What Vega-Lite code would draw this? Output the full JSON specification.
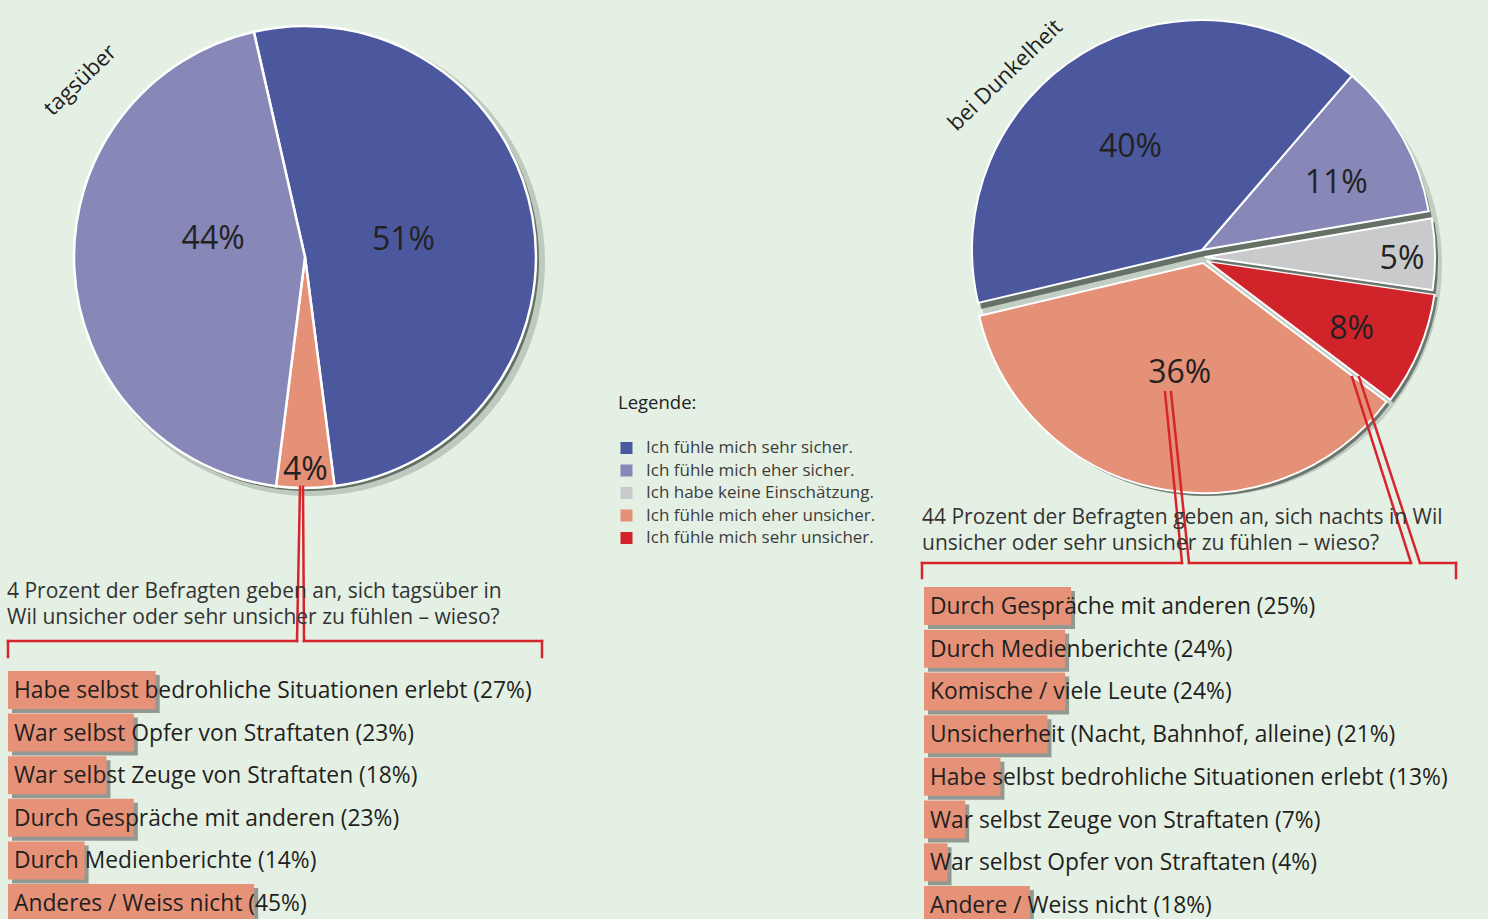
{
  "$schema": "https://vega.github.io/schema/vega-lite/v6.json",
  "background": "#e5f0e4",
  "padding": 0,
  "columns": 2,
  "spacing": {"row": 0, "column": 310},
  "bounds": "flush",
  "resolve": {"scale": {"theta": "independent", "x": "independent", "y": "independent", "color": "shared"}},
  "config": {
    "view": {"stroke": null},
    "font": "Open Sans",
    "legend": {"orient": "none", "legendX": 618, "legendY": 394, "symbolType": "square", "symbolSize": 144, "symbolStrokeWidth": 0, "labelFontSize": 17, "labelColor": "#3c3c3c", "labelOffset": 11, "labelLimit": 400, "titleFontSize": 18.5, "titleFontWeight": "normal", "titleColor": "#222222", "titlePadding": 27, "rowPadding": 4.5},
    "title": {"fontWeight": "normal"}
  },
  "concat": [
    {
      "width": 610,
      "height": 514,
      "data": {"values": [
        {"cat": "Ich fühle mich sehr sicher.", "share": 0.51, "o": 1},
        {"cat": "Ich fühle mich eher unsicher.", "share": 0.04, "o": 2},
        {"cat": "Ich fühle mich eher sicher.", "share": 0.44, "o": 3}
      ]},
      "layer": [
        {"mark": {"type": "arc", "outerRadius": 234, "color": "#27332a", "opacity": 0.2, "xOffset": 6, "yOffset": 5},
         "encoding": {"theta": {"field": "share", "type": "quantitative", "stack": true, "scale": {"domain": [0, 0.99], "range": [-0.2234, 6.0598]}}, "order": {"field": "o"}}},
        {"mark": {"type": "arc", "outerRadius": 231, "color": "#27332a", "opacity": 0.6, "xOffset": 3, "yOffset": 3},
         "encoding": {"theta": {"field": "share", "type": "quantitative", "stack": true, "scale": {"domain": [0, 0.99], "range": [-0.2234, 6.0598]}}, "order": {"field": "o"}}},
        {"mark": {"type": "arc", "outerRadius": 231, "stroke": "#ffffff", "strokeWidth": 2.5},
         "encoding": {
           "theta": {"field": "share", "type": "quantitative", "stack": true, "scale": {"domain": [0, 0.99], "range": [-0.2234, 6.0598]}},
           "order": {"field": "o"},
           "color": {"field": "cat", "type": "nominal", "title": "Legende:", "scale": {"domain": ["Ich fühle mich sehr sicher.", "Ich fühle mich eher sicher.", "Ich habe keine Einschätzung.", "Ich fühle mich eher unsicher.", "Ich fühle mich sehr unsicher."], "range": ["#4b589e", "#8787b8", "#c9cacc", "#e59178", "#d1232a"]}}
         }},
        {"mark": {"type": "text", "radius": 100, "fontSize": 32, "color": "#222222"},
         "encoding": {"theta": {"field": "share", "type": "quantitative", "stack": true, "scale": {"domain": [0, 0.99], "range": [-0.2234, 6.0598]}}, "order": {"field": "o"},
           "text": {"condition": {"test": "datum.o == 1", "field": "share", "type": "quantitative", "format": ".0%"}, "value": ""}}},
        {"mark": {"type": "text", "radius": 92, "dy": -22, "fontSize": 32, "color": "#222222"},
         "encoding": {"theta": {"field": "share", "type": "quantitative", "stack": true, "scale": {"domain": [0, 0.99], "range": [-0.2234, 6.0598]}}, "order": {"field": "o"},
           "text": {"condition": {"test": "datum.o == 3", "field": "share", "type": "quantitative", "format": ".0%"}, "value": ""}}},
        {"mark": {"type": "text", "radius": 211, "dy": 2, "fontSize": 32, "color": "#222222"},
         "encoding": {"theta": {"field": "share", "type": "quantitative", "stack": true, "scale": {"domain": [0, 0.99], "range": [-0.2234, 6.0598]}}, "order": {"field": "o"},
           "text": {"condition": {"test": "datum.o == 2", "field": "share", "type": "quantitative", "format": ".0%"}, "value": ""}}},
        {"data": {"values": [{"t": "tagsüber"}]},
         "mark": {"type": "text", "theta": -0.904, "radius": 286, "angle": 316, "fontSize": 22, "color": "#222222"},
         "encoding": {"text": {"field": "t"}}},
        {"data": {"values": [{}]}, "mark": {"type": "rule", "color": "#d6262c", "strokeWidth": 2.5, "strokeCap": "square"},
         "encoding": {"x": {"value": 300}, "y": {"value": 487}, "x2": {"value": 297}, "y2": {"value": 641}}},
        {"data": {"values": [{}]}, "mark": {"type": "rule", "color": "#d6262c", "strokeWidth": 2.5, "strokeCap": "square"},
         "encoding": {"x": {"value": 303}, "y": {"value": 487}, "x2": {"value": 304}, "y2": {"value": 641}}},
        {"data": {"values": [{}]}, "mark": {"type": "rule", "color": "#d6262c", "strokeWidth": 2.5, "strokeCap": "square"},
         "encoding": {"x": {"value": 8}, "x2": {"value": 297}, "y": {"value": 641}}},
        {"data": {"values": [{}]}, "mark": {"type": "rule", "color": "#d6262c", "strokeWidth": 2.5, "strokeCap": "square"},
         "encoding": {"x": {"value": 304}, "x2": {"value": 542}, "y": {"value": 641}}},
        {"data": {"values": [{}]}, "mark": {"type": "rule", "color": "#d6262c", "strokeWidth": 2.5, "strokeCap": "square"},
         "encoding": {"x": {"value": 8}, "y": {"value": 641}, "y2": {"value": 657}}},
        {"data": {"values": [{}]}, "mark": {"type": "rule", "color": "#d6262c", "strokeWidth": 2.5, "strokeCap": "square"},
         "encoding": {"x": {"value": 542}, "y": {"value": 641}, "y2": {"value": 657}}}
      ]
    },
    {
      "width": 568,
      "height": 516,
      "data": {"values": [
        {"cat": "Ich fühle mich eher sicher.", "share": 0.11, "o": 1},
        {"cat": "Ich habe keine Einschätzung.", "share": 0.05, "o": 2},
        {"cat": "Ich fühle mich sehr unsicher.", "share": 0.08, "o": 3},
        {"cat": "Ich fühle mich eher unsicher.", "share": 0.36, "o": 4},
        {"cat": "Ich fühle mich sehr sicher.", "share": 0.40, "o": 5}
      ]},
      "layer": [
        {"mark": {"type": "arc", "outerRadius": 232, "color": "#27332a", "opacity": 0.18, "xOffset": 6, "yOffset": 6},
         "encoding": {"theta": {"field": "share", "type": "quantitative", "stack": true, "scale": {"domain": [0, 1], "range": [0.7103, 6.9935]}}, "order": {"field": "o"}}},
        {"transform": [{"stack": "share", "groupby": [], "sort": [{"field": "o", "order": "ascending"}], "as": ["s0", "s1"]}, {"filter": "datum.o == 4"}],
         "mark": {"type": "arc", "outerRadius": 230, "color": "#27332a", "opacity": 0.55, "xOffset": 2, "yOffset": 8},
         "encoding": {"theta": {"field": "s0", "type": "quantitative", "scale": {"domain": [0, 1], "range": [0.7103, 6.9935]}}, "theta2": {"field": "s1"}}},
        {"transform": [{"stack": "share", "groupby": [], "sort": [{"field": "o", "order": "ascending"}], "as": ["s0", "s1"]}, {"filter": "datum.o == 4"}],
         "mark": {"type": "arc", "outerRadius": 230, "stroke": "#ffffff", "strokeWidth": 2, "xOffset": -1, "yOffset": 5},
         "encoding": {"theta": {"field": "s0", "type": "quantitative", "scale": {"domain": [0, 1], "range": [0.7103, 6.9935]}}, "theta2": {"field": "s1"},
           "color": {"field": "cat", "type": "nominal", "title": "Legende:", "scale": {"domain": ["Ich fühle mich sehr sicher.", "Ich fühle mich eher sicher.", "Ich habe keine Einschätzung.", "Ich fühle mich eher unsicher.", "Ich fühle mich sehr unsicher."], "range": ["#4b589e", "#8787b8", "#c9cacc", "#e59178", "#d1232a"]}}}},
        {"transform": [{"stack": "share", "groupby": [], "sort": [{"field": "o", "order": "ascending"}], "as": ["s0", "s1"]}, {"filter": "datum.o == 3"}],
         "mark": {"type": "arc", "outerRadius": 230, "color": "#27332a", "opacity": 0.55, "xOffset": 6, "yOffset": 6},
         "encoding": {"theta": {"field": "s0", "type": "quantitative", "scale": {"domain": [0, 1], "range": [0.7103, 6.9935]}}, "theta2": {"field": "s1"}}},
        {"transform": [{"stack": "share", "groupby": [], "sort": [{"field": "o", "order": "ascending"}], "as": ["s0", "s1"]}, {"filter": "datum.o == 3"}],
         "mark": {"type": "arc", "outerRadius": 230, "stroke": "#ffffff", "strokeWidth": 2, "xOffset": 3, "yOffset": 3},
         "encoding": {"theta": {"field": "s0", "type": "quantitative", "scale": {"domain": [0, 1], "range": [0.7103, 6.9935]}}, "theta2": {"field": "s1"},
           "color": {"field": "cat", "type": "nominal", "title": "Legende:", "scale": {"domain": ["Ich fühle mich sehr sicher.", "Ich fühle mich eher sicher.", "Ich habe keine Einschätzung.", "Ich fühle mich eher unsicher.", "Ich fühle mich sehr unsicher."], "range": ["#4b589e", "#8787b8", "#c9cacc", "#e59178", "#d1232a"]}}}},
        {"transform": [{"stack": "share", "groupby": [], "sort": [{"field": "o", "order": "ascending"}], "as": ["s0", "s1"]}, {"filter": "datum.o == 2"}],
         "mark": {"type": "arc", "outerRadius": 230, "color": "#27332a", "opacity": 0.6, "xOffset": 4, "yOffset": 3},
         "encoding": {"theta": {"field": "s0", "type": "quantitative", "scale": {"domain": [0, 1], "range": [0.7103, 6.9935]}}, "theta2": {"field": "s1"}}},
        {"transform": [{"stack": "share", "groupby": [], "sort": [{"field": "o", "order": "ascending"}], "as": ["s0", "s1"]}, {"filter": "datum.o == 2"}],
         "mark": {"type": "arc", "outerRadius": 230, "stroke": "#ffffff", "strokeWidth": 2, "xOffset": 1, "yOffset": -1},
         "encoding": {"theta": {"field": "s0", "type": "quantitative", "scale": {"domain": [0, 1], "range": [0.7103, 6.9935]}}, "theta2": {"field": "s1"},
           "color": {"field": "cat", "type": "nominal", "title": "Legende:", "scale": {"domain": ["Ich fühle mich sehr sicher.", "Ich fühle mich eher sicher.", "Ich habe keine Einschätzung.", "Ich fühle mich eher unsicher.", "Ich fühle mich sehr unsicher."], "range": ["#4b589e", "#8787b8", "#c9cacc", "#e59178", "#d1232a"]}}}},
        {"transform": [{"stack": "share", "groupby": [], "sort": [{"field": "o", "order": "ascending"}], "as": ["s0", "s1"]}, {"filter": "datum.o == 1 || datum.o == 5"}],
         "mark": {"type": "arc", "outerRadius": 230, "color": "#27332a", "opacity": 0.6, "xOffset": 1, "yOffset": -2},
         "encoding": {"theta": {"field": "s0", "type": "quantitative", "scale": {"domain": [0, 1], "range": [0.7103, 6.9935]}}, "theta2": {"field": "s1"}}},
        {"transform": [{"stack": "share", "groupby": [], "sort": [{"field": "o", "order": "ascending"}], "as": ["s0", "s1"]}, {"filter": "datum.o == 1 || datum.o == 5"}],
         "mark": {"type": "arc", "outerRadius": 230, "stroke": "#ffffff", "strokeWidth": 2, "xOffset": -2, "yOffset": -8},
         "encoding": {"theta": {"field": "s0", "type": "quantitative", "scale": {"domain": [0, 1], "range": [0.7103, 6.9935]}}, "theta2": {"field": "s1"},
           "color": {"field": "cat", "type": "nominal", "title": "Legende:", "scale": {"domain": ["Ich fühle mich sehr sicher.", "Ich fühle mich eher sicher.", "Ich habe keine Einschätzung.", "Ich fühle mich eher unsicher.", "Ich fühle mich sehr unsicher."], "range": ["#4b589e", "#8787b8", "#c9cacc", "#e59178", "#d1232a"]}}}},
        {"mark": {"type": "text", "radius": 132, "dx": -5, "dy": 2, "fontSize": 32, "color": "#222222"},
         "encoding": {"theta": {"field": "share", "type": "quantitative", "stack": true, "scale": {"domain": [0, 1], "range": [0.7103, 6.9935]}}, "order": {"field": "o"},
           "text": {"condition": {"test": "datum.o == 5", "field": "share", "type": "quantitative", "format": ".0%"}, "value": ""}}},
        {"mark": {"type": "text", "radius": 152, "fontSize": 32, "color": "#222222"},
         "encoding": {"theta": {"field": "share", "type": "quantitative", "stack": true, "scale": {"domain": [0, 1], "range": [0.7103, 6.9935]}}, "order": {"field": "o"},
           "text": {"condition": {"test": "datum.o == 1", "field": "share", "type": "quantitative", "format": ".0%"}, "value": ""}}},
        {"mark": {"type": "text", "radius": 198, "dy": 3, "fontSize": 32, "color": "#222222"},
         "encoding": {"theta": {"field": "share", "type": "quantitative", "stack": true, "scale": {"domain": [0, 1], "range": [0.7103, 6.9935]}}, "order": {"field": "o"},
           "text": {"condition": {"test": "datum.o == 2", "field": "share", "type": "quantitative", "format": ".0%"}, "value": ""}}},
        {"mark": {"type": "text", "radius": 160, "dy": 9, "fontSize": 32, "color": "#222222"},
         "encoding": {"theta": {"field": "share", "type": "quantitative", "stack": true, "scale": {"domain": [0, 1], "range": [0.7103, 6.9935]}}, "order": {"field": "o"},
           "text": {"condition": {"test": "datum.o == 3", "field": "share", "type": "quantitative", "format": ".0%"}, "value": ""}}},
        {"mark": {"type": "text", "radius": 118, "fontSize": 32, "color": "#222222"},
         "encoding": {"theta": {"field": "share", "type": "quantitative", "stack": true, "scale": {"domain": [0, 1], "range": [0.7103, 6.9935]}}, "order": {"field": "o"},
           "text": {"condition": {"test": "datum.o == 4", "field": "share", "type": "quantitative", "format": ".0%"}, "value": ""}}},
        {"data": {"values": [{"t": "bei Dunkelheit"}]},
         "mark": {"type": "text", "theta": -0.827, "radius": 270, "angle": 316, "fontSize": 22, "color": "#222222"},
         "encoding": {"text": {"field": "t"}}},
        {"data": {"values": [{}]}, "mark": {"type": "rule", "color": "#d6262c", "strokeWidth": 2.5, "strokeCap": "square"},
         "encoding": {"x": {"value": 245}, "y": {"value": 392}, "x2": {"value": 262}, "y2": {"value": 563}}},
        {"data": {"values": [{}]}, "mark": {"type": "rule", "color": "#d6262c", "strokeWidth": 2.5, "strokeCap": "square"},
         "encoding": {"x": {"value": 251}, "y": {"value": 392}, "x2": {"value": 269}, "y2": {"value": 563}}},
        {"data": {"values": [{}]}, "mark": {"type": "rule", "color": "#d6262c", "strokeWidth": 2.5, "strokeCap": "square"},
         "encoding": {"x": {"value": 432}, "y": {"value": 377}, "x2": {"value": 491}, "y2": {"value": 563}}},
        {"data": {"values": [{}]}, "mark": {"type": "rule", "color": "#d6262c", "strokeWidth": 2.5, "strokeCap": "square"},
         "encoding": {"x": {"value": 439}, "y": {"value": 377}, "x2": {"value": 500}, "y2": {"value": 563}}},
        {"data": {"values": [{}]}, "mark": {"type": "rule", "color": "#d6262c", "strokeWidth": 2.5, "strokeCap": "square"},
         "encoding": {"x": {"value": 2}, "x2": {"value": 262}, "y": {"value": 563}}},
        {"data": {"values": [{}]}, "mark": {"type": "rule", "color": "#d6262c", "strokeWidth": 2.5, "strokeCap": "square"},
         "encoding": {"x": {"value": 269}, "x2": {"value": 491}, "y": {"value": 563}}},
        {"data": {"values": [{}]}, "mark": {"type": "rule", "color": "#d6262c", "strokeWidth": 2.5, "strokeCap": "square"},
         "encoding": {"x": {"value": 500}, "x2": {"value": 536}, "y": {"value": 563}}},
        {"data": {"values": [{}]}, "mark": {"type": "rule", "color": "#d6262c", "strokeWidth": 2.5, "strokeCap": "square"},
         "encoding": {"x": {"value": 2}, "y": {"value": 563}, "y2": {"value": 578}}},
        {"data": {"values": [{}]}, "mark": {"type": "rule", "color": "#d6262c", "strokeWidth": 2.5, "strokeCap": "square"},
         "encoding": {"x": {"value": 536}, "y": {"value": 563}, "y2": {"value": 578}}}
      ]
    },
    {
      "width": 610,
      "height": 403,
      "title": {"text": ["4 Prozent der Befragten geben an, sich tagsüber in", "Wil unsicher oder sehr unsicher zu fühlen – wieso?"], "anchor": "start", "frame": "group", "dx": 7, "dy": 112, "offset": 0, "fontSize": 21, "fontWeight": "normal", "color": "#333333", "lineHeight": 26},
      "data": {"values": [
        {"reason": "Habe selbst bedrohliche Situationen erlebt (27%)", "pct": 27},
        {"reason": "War selbst Opfer von Straftaten (23%)", "pct": 23},
        {"reason": "War selbst Zeuge von Straftaten (18%)", "pct": 18},
        {"reason": "Durch Gespräche mit anderen (23%)", "pct": 23},
        {"reason": "Durch Medienberichte (14%)", "pct": 14},
        {"reason": "Anderes / Weiss nicht (45%)", "pct": 45}
      ]},
      "encoding": {"y": {"field": "reason", "type": "nominal", "sort": null, "axis": null, "scale": {"range": [155, 406], "paddingInner": 0.108, "paddingOuter": 0}}},
      "layer": [
        {"mark": {"type": "bar", "color": "#2f2f2f", "opacity": 0.45, "xOffset": 4, "x2Offset": 4, "yOffset": 4, "y2Offset": 4},
         "encoding": {"x": {"field": "pct", "type": "quantitative", "axis": null, "scale": {"domain": [0, 100], "range": [8, 555]}}}},
        {"mark": {"type": "bar", "color": "#e69278"},
         "encoding": {"x": {"field": "pct", "type": "quantitative", "axis": null, "scale": {"domain": [0, 100], "range": [8, 555]}}}},
        {"mark": {"type": "text", "align": "left", "baseline": "middle", "dx": 6, "dy": 1, "fontSize": 22.8, "color": "#231f20"},
         "encoding": {"x": {"datum": 0, "type": "quantitative"}, "text": {"field": "reason"}}}
      ]
    },
    {
      "width": 560,
      "height": 403,
      "title": {"text": ["44 Prozent der Befragten geben an, sich nachts in Wil", "unsicher oder sehr unsicher zu fühlen – wieso?"], "anchor": "start", "frame": "group", "dx": 2, "dy": 38, "offset": 0, "fontSize": 21, "fontWeight": "normal", "color": "#333333", "lineHeight": 26},
      "data": {"values": [
        {"reason": "Durch Gespräche mit anderen (25%)", "pct": 25},
        {"reason": "Durch Medienberichte (24%)", "pct": 24},
        {"reason": "Komische / viele Leute (24%)", "pct": 24},
        {"reason": "Unsicherheit (Nacht, Bahnhof, alleine) (21%)", "pct": 21},
        {"reason": "Habe selbst bedrohliche Situationen erlebt (13%)", "pct": 13},
        {"reason": "War selbst Zeuge von Straftaten (7%)", "pct": 7},
        {"reason": "War selbst Opfer von Straftaten (4%)", "pct": 4},
        {"reason": "Andere / Weiss nicht (18%)", "pct": 18}
      ]},
      "encoding": {"y": {"field": "reason", "type": "nominal", "sort": null, "axis": null, "scale": {"range": [71, 408], "paddingInner": 0.11, "paddingOuter": 0}}},
      "layer": [
        {"mark": {"type": "bar", "color": "#2f2f2f", "opacity": 0.45, "xOffset": 4, "x2Offset": 4, "yOffset": 4, "y2Offset": 4},
         "encoding": {"x": {"field": "pct", "type": "quantitative", "axis": null, "scale": {"domain": [0, 100], "range": [4, 592]}}}},
        {"mark": {"type": "bar", "color": "#e69278"},
         "encoding": {"x": {"field": "pct", "type": "quantitative", "axis": null, "scale": {"domain": [0, 100], "range": [4, 592]}}}},
        {"mark": {"type": "text", "align": "left", "baseline": "middle", "dx": 6, "dy": 1, "fontSize": 22.8, "color": "#231f20"},
         "encoding": {"x": {"datum": 0, "type": "quantitative"}, "text": {"field": "reason"}}}
      ]
    }
  ]
}
